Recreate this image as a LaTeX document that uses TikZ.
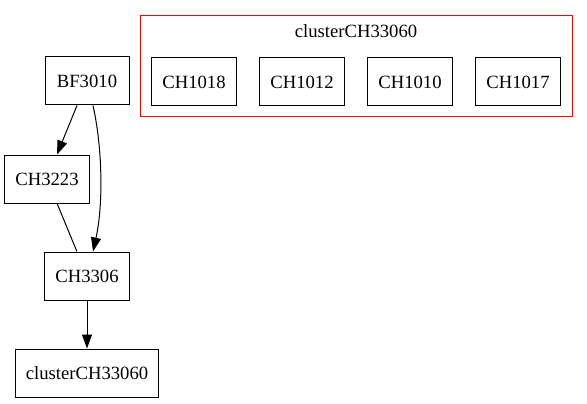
\documentclass[tikz,border=0pt]{standalone}
\usepackage{fontspec}
\setmainfont{Liberation Serif}
\usetikzlibrary{arrows.meta}
\tikzset{
  box/.style={draw, line width=1pt, minimum width=84pt, minimum height=48pt,
    inner xsep=10.5pt, font=\fontsize{18.67}{22}\selectfont},
  edge/.style={line width=1pt, -{Triangle[length=14pt,width=10pt]}}
}
\begin{document}
\begin{tikzpicture}[x=1pt,y=1pt]
            \useasboundingbox (0,0) rectangle (587,-404);
            \draw[red, line width=1pt] (140,-16) rectangle (572,-117);
            \node[font=\fontsize{18.67}{22}\selectfont] (clusterlabel) at (356,-31) {clusterCH33060};
            \node[box] (CH1018) at (194,-82) {CH1018};
            \node[box] (CH1012) at (302,-82) {CH1012};
            \node[box] (CH1010) at (410,-82) {CH1010};
            \node[box] (CH1017) at (518,-82) {CH1017};

            \node[box] (BF3010) at (87,-81) {BF3010};
            \node[box] (CH3223) at (47,-179) {CH3223};
            \node[box] (CH3306) at (87,-276) {CH3306};
            \node[box] (clusterCH33060) at (87,-373) {clusterCH33060};

            \draw[edge] (BF3010) to (CH3223);
            \draw[edge] ([xshift=6pt]BF3010.south) .. controls +(10,-45) and +(10,45) .. ([xshift=6pt]CH3306.north);
            \draw[line width=1pt] (CH3223) to (CH3306);
            \draw[edge] (CH3306) to (clusterCH33060);
        \end{tikzpicture}
\end{document}
